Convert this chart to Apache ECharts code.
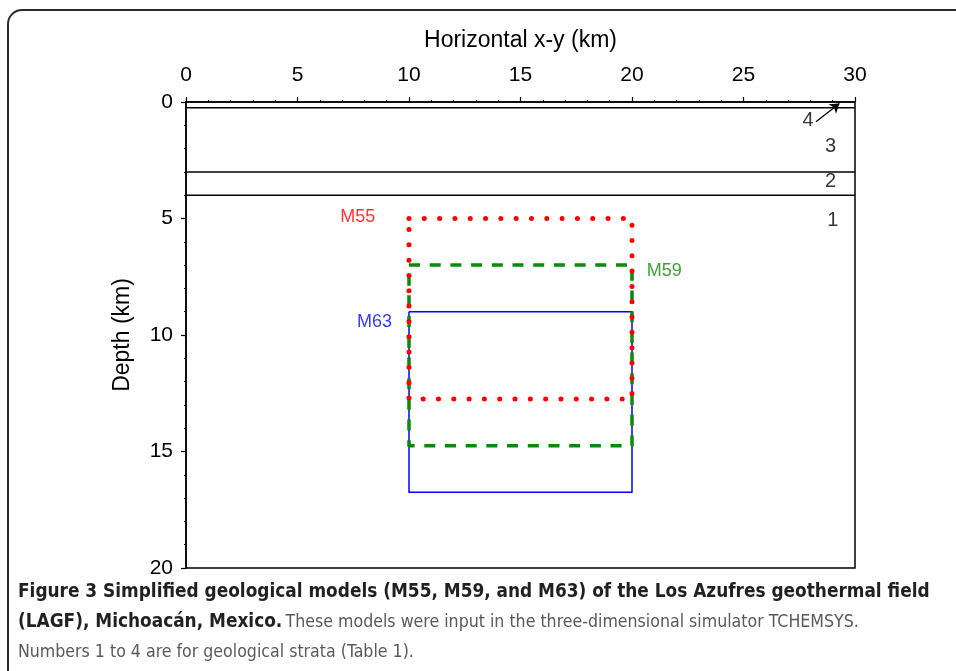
<!DOCTYPE html>
<html>
<head>
  <meta charset="UTF-8">
  <title>Figure 3</title>
  <script src="https://cdn.jsdelivr.net/npm/echarts@6/dist/echarts.min.js"></script>
  <style>
    html, body { margin: 0; padding: 0; background: #fff; }
    #main { width: 956px; height: 671px; }
  </style>
</head>
<body>
  <div id="main"></div>
  <script type="text/javascript">
    // strata boundaries (depth, km) and labels
    var layerDepths = [0.25, 3, 4];
    var strataLabels = ['4', '3', '2', '1'];
    var strataLabelPos = [[27.9, 0.78], [28.9, 1.9], [28.9, 3.4], [29.0, 5.1]];
    var arrow4 = [[28.25, 0.85], [29.3, 0.06]];

    // model blocks
    var modelNames = ['M55', 'M59', 'M63'];
    var modelX = [10, 20];
    var modelTop = [5, 7, 9];
    var modelBottom = [12.75, 14.75, 16.75];
    var modelColors = ['#ff0000', '#0a8a0a', '#0000ff'];
    var modelLabelPos = [[7.7, 4.95], [21.45, 7.25], [8.45, 9.45]];

    var xTicks = { min: 0, max: 30, interval: 5 };
    var yTicks = { min: 0, max: 20, interval: 5 };

    var font = 'Liberation Sans, Arial, sans-serif';
    var capFont = '"Liberation Sans Narrow", "DejaVu Sans Condensed", sans-serif';
    var series = [];

    layerDepths.forEach(function (d) {
      series.push({
        type: 'line',
        data: [[xTicks.min, d], [xTicks.max, d]],
        symbol: 'none',
        silent: true,
        lineStyle: { color: '#000', width: 1.5 }
      });
    });

    var styles = [
      { type: [0.01, 15.3], width: 5, cap: 'round' },
      { type: [11, 9.7], width: 3.5, cap: 'butt' },
      { type: 'solid', width: 1.5, cap: 'butt' }
    ];
    modelNames.forEach(function (name, i) {
      var x0 = modelX[0], x1 = modelX[1], t = modelTop[i], b = modelBottom[i];
      series.push({
        type: 'line',
        name: name,
        data: [[x0, t], [x1, t], [x1, b], [x0, b], [x0, t]],
        symbol: 'none',
        silent: true,
        z: 3 - i + 2,
        lineStyle: {
          color: modelColors[i],
          width: styles[i].width,
          type: styles[i].type,
          cap: styles[i].cap,
          join: 'round'
        }
      });
      series.push({
        type: 'scatter',
        data: [modelLabelPos[i]],
        symbolSize: 0,
        silent: true,
        label: {
          show: true, position: 'inside', formatter: name,
          color: modelColors[i], fontSize: 18, fontFamily: font
        }
      });
    });

    series.push({
      type: 'scatter',
      data: strataLabelPos.map(function (p, i) { return { value: p, name: strataLabels[i] }; }),
      symbolSize: 0,
      silent: true,
      label: {
        show: true, position: 'inside', formatter: '{b}',
        color: '#000', fontSize: 20, fontFamily: font
      }
    });

    series.push({
      type: 'lines',
      coordinateSystem: 'cartesian2d',
      data: [{ coords: arrow4 }],
      symbol: ['none', 'arrow'],
      symbolSize: 9,
      silent: true,
      lineStyle: { color: '#000', width: 1.3, opacity: 1 }
    });

    var myChart = echarts.init(document.getElementById('main'));
    var option = {
      animation: false,
      backgroundColor: '#fff',
      grid: {
        left: 186, right: 101, top: 102, bottom: 103,
        show: true, borderColor: '#000', borderWidth: 1.5, backgroundColor: 'transparent'
      },
      xAxis: {
        type: 'value',
        position: 'top',
        min: xTicks.min, max: xTicks.max, interval: xTicks.interval,
        name: 'Horizontal x-y (km)',
        nameLocation: 'middle',
        nameGap: 50,
        nameTextStyle: { fontSize: 23, fontFamily: font, color: '#000' },
        axisLine: { show: true, lineStyle: { color: '#000', width: 1.5 } },
        axisTick: { show: true, inside: false, length: 5, lineStyle: { color: '#000', width: 1.2 } },
        minorTick: { show: true, splitNumber: 5, length: 2, lineStyle: { color: '#000', width: 1 } },
        axisLabel: { margin: 16, fontSize: 21, fontFamily: font, color: '#000' },
        splitLine: { show: false }
      },
      yAxis: {
        type: 'value',
        inverse: true,
        min: yTicks.min, max: yTicks.max, interval: yTicks.interval,
        name: 'Depth (km)',
        nameLocation: 'middle',
        nameGap: 52,
        nameTextStyle: { fontSize: 23, fontFamily: font, color: '#000' },
        axisLine: { show: true, lineStyle: { color: '#000', width: 1.5 } },
        axisTick: { show: true, inside: false, length: 5, lineStyle: { color: '#000', width: 1.2 } },
        minorTick: { show: true, splitNumber: 5, length: 2, lineStyle: { color: '#000', width: 1 } },
        axisLabel: { margin: 13, fontSize: 21, fontFamily: font, color: '#000' },
        splitLine: { show: false }
      },
      graphic: [
        {
          type: 'rect',
          shape: { x: 8, y: 10, width: 980, height: 720, r: 14 },
          style: { fill: 'none', stroke: '#2a2a2a', lineWidth: 2 },
          silent: true
        },
        {
          type: 'text',
          left: 18, top: 583,
          style: {
            text: 'Figure 3 Simplified geological models (M55, M59, and M63) of the Los Azufres geothermal field',
            font: 'bold 18.85px ' + capFont,
            fill: '#231f20'
          }
        },
        {
          type: 'text',
          left: 18, top: 613,
          style: {
            text: '{b|(LAGF), Michoacán, Mexico.} {r|These models were input in the three-dimensional simulator TCHEMSYS.}',
            rich: {
              b: { font: 'bold 18.85px ' + capFont, fill: '#231f20' },
              r: { font: '17.6px ' + capFont, fill: '#58595b' }
            }
          }
        },
        {
          type: 'text',
          left: 18, top: 643,
          style: {
            text: 'Numbers 1 to 4 are for geological strata (Table 1).',
            font: '17.6px ' + capFont,
            fill: '#58595b'
          }
        }
      ],
      series: series
    };
    myChart.setOption(option);
  </script>
</body>
</html>
